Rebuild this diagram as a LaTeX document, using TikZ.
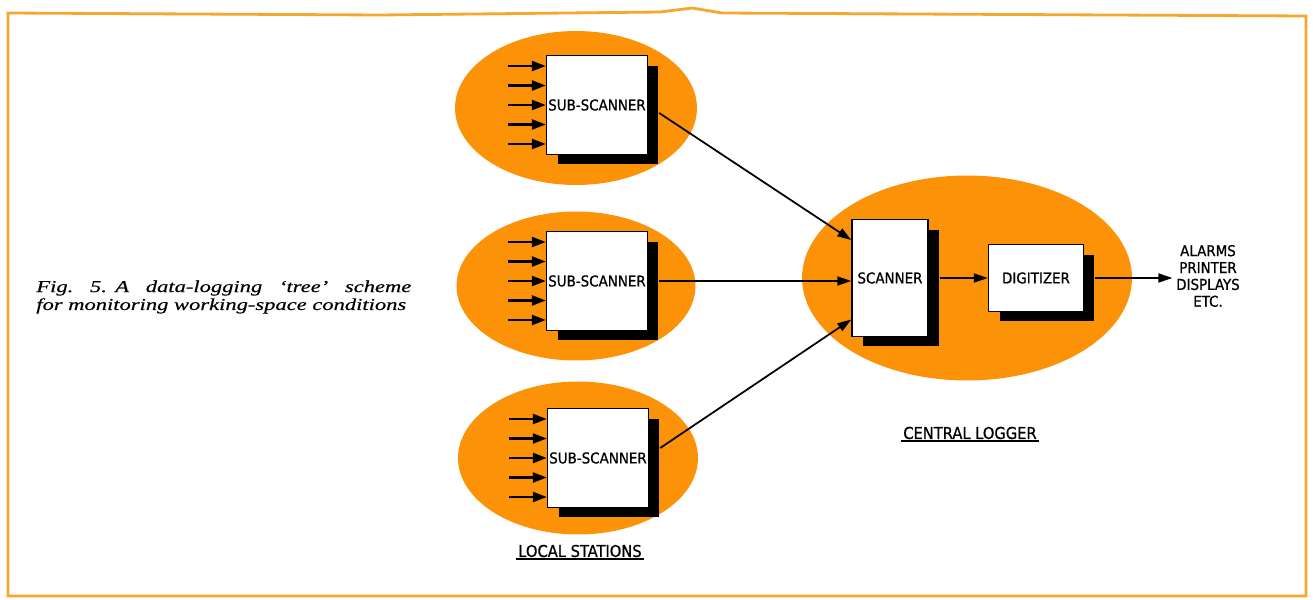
\documentclass[tikz,border=0pt]{standalone}
\usepackage{fontspec}
\setmainfont{Liberation Serif}
\newfontfamily\lettering[FakeBold=0.7]{DejaVu Sans Condensed}
\newfontfamily\capfont[FakeStretch=1.35,FakeBold=0.4]{Liberation Serif}
\usetikzlibrary{arrows.meta,shapes.geometric,shadows}
\definecolor{stationorange}{RGB}{252,146,8}
\definecolor{frameorange}{RGB}{245,168,45}

\begin{document}
\begin{tikzpicture}[x=0.02cm,y=-0.02cm,
 box/.style={draw,line width=0.8pt,fill=white,minimum width=1.95cm,minimum height=1.97cm,inner sep=1pt,
  font=\lettering\fontsize{8.5}{10}\selectfont,
  drop shadow={opacity=1,fill=black,shadow xshift=0.22cm,shadow yshift=-0.2cm}},
 blob/.style={ellipse,fill=stationorange,inner sep=0pt},
 title/.style={font=\lettering\fontsize{9.3}{11}\selectfont,inner sep=1pt},
 feed/.style={-{Triangle[length=2.8mm,width=2mm]},line width=1.4pt},
 link/.style={-{Triangle[length=2.8mm,width=1.8mm]},line width=1pt}]
\useasboundingbox (0,0) rectangle (1313,599);
% frame
\draw[frameorange,line width=1.6pt] (8,596) -- (8,13) -- (380,15) -- (660,12) -- (692,8) -- (722,13)
  -- (1306,16) -- (1306,596) -- cycle;
% orange grounds
\node[blob,minimum width=4.84cm,minimum height=3.08cm] (st1) at (576,108) {};
\node[blob,minimum width=4.78cm,minimum height=2.98cm] (st2) at (576,286) {};
\node[blob,minimum width=4.80cm,minimum height=3.06cm] (st3) at (578,458) {};
\node[blob,minimum width=6.6cm,minimum height=4.1cm] (central) at (967,278) {};
% boxes
\node[box] (sub1) at (597,105) {SUB-SCANNER};
\node[box] (sub2) at (597,281) {SUB-SCANNER};
\node[box] (sub3) at (598,458) {SUB-SCANNER};
\node[box,minimum width=1.52cm,minimum height=2.34cm] (scan) at (890,278) {SCANNER};
\node[box,minimum width=1.9cm,minimum height=1.34cm] (dig) at (1036,278) {DIGITIZER};
\node[font=\lettering\fontsize{8.5}{9.6}\selectfont,align=center,inner sep=2pt] (out) at (1208,276)
  {ALARMS\\PRINTER\\DISPLAYS\\ETC.};
% inputs
\foreach \s in {sub1,sub2,sub3}
  \foreach \k in {-2,...,2}
    \draw[feed] ([xshift=-0.76cm,yshift=\k*0.39cm]\s.west) -- ([yshift=\k*0.39cm]\s.west);
% links
\draw[link] ([xshift=0.22cm,yshift=-0.16cm]sub1.east) -- ([yshift=0.76cm]scan.west);
\draw[link] ([xshift=0.22cm]sub2.east) -- (sub2.east -| scan.west);
\draw[link] ([xshift=0.22cm,yshift=0.2cm]sub3.east) -- ([yshift=-0.83cm]scan.west);
\draw[link] ([xshift=0.22cm]scan.east) -- (scan.east -| dig.west);
\draw[link] ([xshift=0.22cm]dig.east) -- (dig.east -| out.west);
% labels
\node[title] (local) at (580,551) {LOCAL STATIONS};
\draw[line width=1pt] (local.south west) -- (local.south east);
\node[title] (logger) at (970,433) {CENTRAL LOGGER};
\draw[line width=1pt] (logger.south west) -- (logger.south east);
\node[anchor=west,text width=7.5cm,align=justify,inner sep=0pt,
  font=\capfont\itshape\fontsize{9.5}{10.2}\selectfont] (caption) at (36,297)
  {Fig.~5.\enspace A data-logging ‘tree’ scheme\linebreak for monitoring working-space conditions};
\end{tikzpicture}
\end{document}
